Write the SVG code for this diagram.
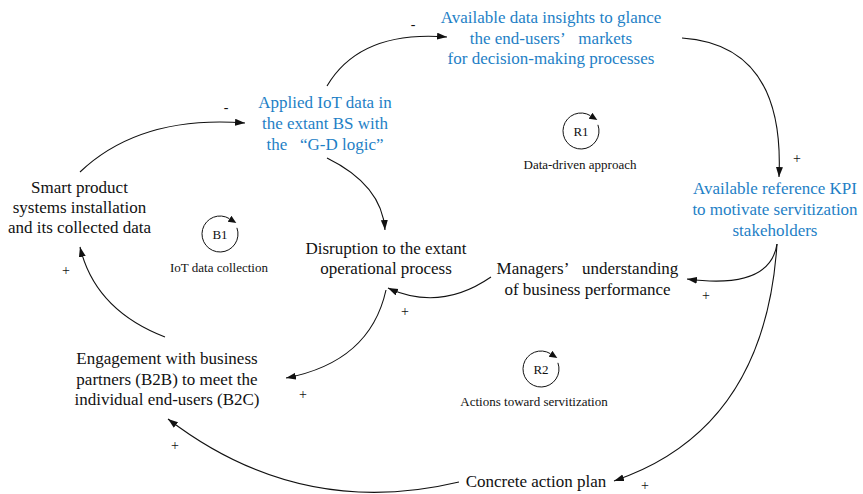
<svg xmlns="http://www.w3.org/2000/svg" width="863" height="494" viewBox="0 0 863 494">
<style>
text{font-family:'Liberation Serif','Tinos','Times New Roman','DejaVu Serif',serif;fill:#111;}
.n{font-size:17px;text-anchor:middle;}
.b{fill:#1e7fc6;}
.s{font-size:13px;text-anchor:middle;}
.l{font-size:13px;text-anchor:middle;}
.p{font-size:14px;text-anchor:middle;fill:#111;}
.c{fill:none;stroke:#111;stroke-width:1.1;marker-end:url(#ah);}
.loop{fill:none;stroke:#111;stroke-width:1;marker-end:url(#la);}
</style>
<defs>
<marker id="ah" markerUnits="userSpaceOnUse" markerWidth="11" markerHeight="8" refX="10" refY="3.5" orient="auto"><path d="M0,0 L10,3.5 L0,7 z" fill="#111"/></marker>
<marker id="la" markerUnits="userSpaceOnUse" markerWidth="9" markerHeight="8" refX="0" refY="3.5" orient="auto"><path d="M0,0 L8,3.5 L0,7 z" fill="#111"/></marker>
</defs>
<rect width="863" height="494" fill="#fff"/>

<g id="connectors">
<path class="c" d="M80,172 Q140,115 245,123"/>
<path class="c" d="M327,86 Q360,30 447,37"/>
<path class="c" d="M682,38 Q785,45 779,177"/>
<path class="c" d="M327,158 Q382,185 385,230"/>
<path class="c" d="M491,277 Q440,312 388,288"/>
<path class="c" d="M386,290 Q370,362 286,378"/>
<path class="c" d="M165,337 Q95,310 80,247"/>
<path class="c" d="M777,244 Q770,290 687,279"/>
<path class="c" d="M777,244 Q765,430 614,481"/>
<path class="c" d="M459,482 Q300,520 168,419"/>
</g>

<g id="signs">
<text class="p" x="226" y="112">-</text>
<text class="p" x="413" y="29">-</text>
<text class="p" x="797" y="163">+</text>
<text class="p" x="66" y="275">+</text>
<text class="p" x="405" y="316">+</text>
<text class="p" x="303" y="399">+</text>
<text class="p" x="706" y="300">+</text>
<text class="p" x="175" y="450">+</text>
<text class="p" x="645" y="490" font-size="13">+</text>
</g>

<g id="n-insights">
<text class="n b" x="551" y="23">Available data insights to glance</text>
<text class="n b" x="551" y="43.5" xml:space="preserve">the end-users’&#8194; markets</text>
<text class="n b" x="551" y="64">for decision-making processes</text>
</g>
<g id="n-applied">
<text class="n b" x="325" y="108">Applied IoT data in</text>
<text class="n b" x="325" y="129">the extant BS with</text>
<text class="n b" x="325" y="150" xml:space="preserve">the&#8194; “G-D logic”</text>
</g>
<g id="n-smart">
<text class="n" x="79.5" y="193">Smart product</text>
<text class="n" x="79.5" y="213">systems installation</text>
<text class="n" x="79.5" y="233">and its collected data</text>
</g>
<g id="n-disruption">
<text class="n" x="386" y="254">Disruption to the extant</text>
<text class="n" x="386" y="274">operational process</text>
</g>
<g id="n-managers">
<text class="n" x="587.5" y="274" xml:space="preserve">Managers’&#8194; understanding</text>
<text class="n" x="587.5" y="295">of business performance</text>
</g>
<g id="n-kpi">
<text class="n b" x="775" y="194">Available reference KPI</text>
<text class="n b" x="775" y="215">to motivate servitization</text>
<text class="n b" x="775" y="236">stakeholders</text>
</g>
<g id="n-engagement">
<text class="n" x="167" y="364">Engagement with business</text>
<text class="n" x="167" y="385">partners (B2B) to meet the</text>
<text class="n" x="167" y="405">individual end-users (B2C)</text>
</g>
<g id="n-action">
<text class="n" x="536" y="487">Concrete action plan</text>
</g>

<g id="loop-B1">
<path class="loop" d="M236.91,227.84 A18,18 0 1 1 229.54,218.74"/>
<text class="l" x="220" y="238.5">B1</text>
<text class="s" x="219" y="272">IoT data collection</text>
</g>
<g id="loop-R1">
<path class="loop" d="M597.91,124.84 A18,18 0 1 1 590.54,115.74"/>
<text class="l" x="581" y="135.5">R1</text>
<text class="s" x="580" y="169">Data-driven approach</text>
</g>
<g id="loop-R2">
<path class="loop" d="M557.91,362.84 A18,18 0 1 1 550.54,353.74"/>
<text class="l" x="541" y="373.5">R2</text>
<text class="s" x="534" y="406">Actions toward servitization</text>
</g>
</svg>
